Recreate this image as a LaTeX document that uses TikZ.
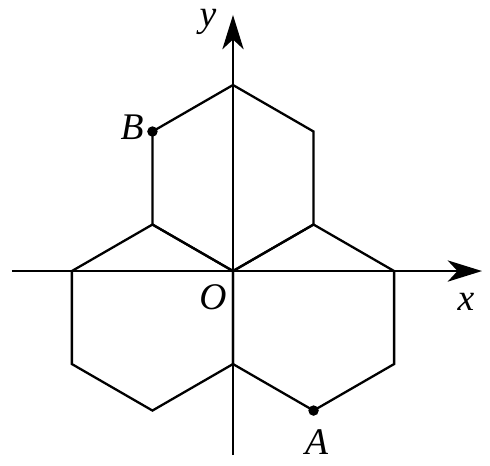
\documentclass[tikz,border=0pt]{standalone}
\usepackage{fontspec}
\setmainfont{Liberation Serif}
\usetikzlibrary{arrows.meta}
\begin{document}
\begin{tikzpicture}[line width=0.7pt, every node/.style={font=\fontsize{11.5}{13}\selectfont\itshape}]
\useasboundingbox (-2.505,-2.086) rectangle (2.763,2.914);
\foreach \a in {90,210,330}
\draw[shift={(\a:1)}] (30:1) -- (90:1) -- (150:1) -- (210:1) -- (270:1) -- (330:1) -- cycle;
\coordinate (O) at (0,0);
\coordinate (xl) at (-2.376,0);
\coordinate (xr) at (2.677,0);
\coordinate (yd) at (0,-1.978);
\coordinate (yu) at (0,2.753);
\draw[-{Stealth[length=10.5pt,width=6.5pt,inset=3pt]}](xl) -- (xr);
\draw[-{Stealth[length=10.5pt,width=6.5pt,inset=3pt]}](yd) -- (yu);
\coordinate (b) at (-0.866,1.5);
\coordinate (a) at (0.866,-1.5);
\fill (b) circle (1.6pt);
\fill (a) circle (1.6pt);
\node (B) at (-1.086,1.548){B};
\node (A) at (0.9,-1.84){A};
\node (Olab) at (-0.215,-0.28){O};
\node (xlab) at (2.505,-0.333){x};
\node (ylab) at (-0.27,2.68){y};
\end{tikzpicture}
\end{document}
